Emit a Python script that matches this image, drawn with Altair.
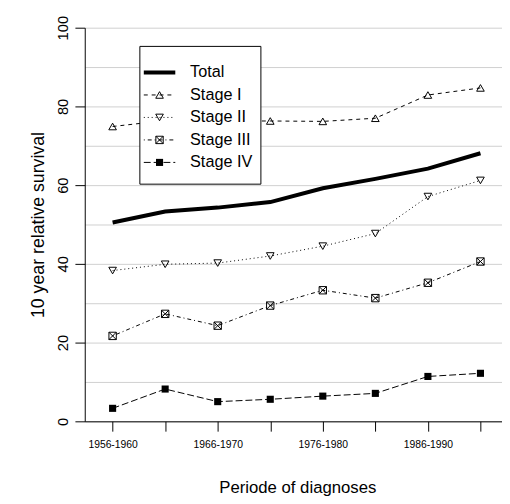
import json
import altair as alt
import pandas as pd

# ---- data -------------------------------------------------------------
periods = ["1956-1960", "1961-1965", "1966-1970", "1971-1975",
           "1976-1980", "1981-1985", "1986-1990", "1991-1995"]
series_names = ["Total", "Stage I", "Stage II", "Stage III", "Stage IV"]
total = [50.5, 53.3, 54.3, 55.7, 59.2, 61.6, 64.2, 68.1]
stage1 = [74.9, 76.4, 76.3, 76.3, 76.2, 77.0, 82.9, 84.7]
stage2 = [38.3, 39.9, 40.2, 42.0, 44.5, 47.7, 57.1, 61.2]
stage3 = [21.7, 27.3, 24.3, 29.4, 33.3, 31.3, 35.2, 40.6]
stage4 = [3.3, 8.2, 5.0, 5.6, 6.4, 7.1, 11.4, 12.2]
y_grid_values = list(range(0, 101, 10))
x_label_every = 2

series_values = dict(zip(series_names, [total, stage1, stage2, stage3, stage4]))

rows = []
for name, vals in series_values.items():
    for i, (p, v) in enumerate(zip(periods, vals)):
        rows.append({"series": name, "idx": i, "period": p, "value": v})
df = pd.DataFrame(rows)

# ---- styles -----------------------------------------------------------
FONT = "Liberation Sans"
dash = {"Total": None, "Stage I": [4, 4], "Stage II": [1, 3],
        "Stage III": [1, 3, 4, 3], "Stage IV": [7, 3]}
lwidth = {"Total": 4, "Stage I": 1, "Stage II": 1, "Stage III": 1, "Stage IV": 1}
sq_x = "M-1,-1H1V1H-1Z M-1,-1L1,1 M1,-1L-1,1"
shape = {"Stage I": "triangle-up", "Stage II": "triangle-down",
         "Stage III": sq_x, "Stage IV": "square"}
size = {"Stage I": 60, "Stage II": 60, "Stage III": 56, "Stage IV": 52}
filled = {"Stage I": False, "Stage II": False, "Stage III": False, "Stage IV": True}

label_expr = ("datum.value % " + str(x_label_every) + " == 0 ? "
              + json.dumps(periods) + "[datum.value] : ''")

x_enc = alt.X("idx:Q",
              scale=alt.Scale(domain=[-0.53, 7.41], nice=False, zero=False),
              axis=alt.Axis(values=list(range(len(periods))), labelExpr=label_expr,
                            title="Periode of diagnoses", grid=False,
                            tickSize=10, tickColor="black", labelFontSize=10.5,
                            labelPadding=9, labelFlush=False, labelOverlap=False,
                            titleX=216, titleY=67, titleBaseline="middle",
                            titleAlign="center", titleFontSize=17))
y_enc = alt.Y("value:Q",
              scale=alt.Scale(domain=[0, 100], nice=False, zero=True),
              axis=alt.Axis(values=y_grid_values,
                            labelExpr="datum.value % 20 == 0 ? datum.label : ''",
                            tickColor={"condition": {"test": "datum.value % 20 === 0",
                                                     "value": "black"},
                                       "value": "transparent"},
                            title="10 year relative survival", grid=True,
                            gridColor="#cfcfcf", gridWidth=1,
                            tickSize=10, labelFontSize=15, labelAngle=270,
                            labelAlign="center", labelBaseline="middle",
                            labelPadding=13, titleX=-47, titleY=200,
                            titleAngle=270, titleAlign="center",
                            titleBaseline="middle", titleFontSize=18))

base = alt.Chart(df)
layers = []
for name in series_names:
    sub = base.transform_filter(alt.datum.series == name)
    line_kw = dict(color="black", strokeWidth=lwidth[name])
    if dash[name]:
        line_kw["strokeDash"] = dash[name]
    layers.append(sub.mark_line(**line_kw).encode(x=x_enc, y=y_enc))
    if name in shape:
        layers.append(sub.mark_point(shape=shape[name], filled=filled[name],
                                     size=size[name], color="black",
                                     strokeWidth=1, opacity=1)
                      .encode(x=x_enc, y=y_enc))

# ---- legend (layout, pixel positions in the plot area) ----------------
leg_df = pd.DataFrame({"series": series_names})
leg_base = alt.Chart(leg_df)
layers.append(leg_base.transform_filter(alt.datum.series == "Total")
              .mark_rect(fill="white", stroke="black", strokeWidth=1)
              .encode(x=alt.value(56), x2=alt.value(179),
                      y=alt.value(19), y2=alt.value(159)))
for k, name in enumerate(series_names):
    yy = 45.5 + 22.85 * k
    sub = leg_base.transform_filter(alt.datum.series == name)
    rule_kw = dict(color="black", strokeWidth=lwidth[name])
    if dash[name]:
        rule_kw["strokeDash"] = dash[name]
    layers.append(sub.mark_rule(**rule_kw)
                  .encode(x=alt.value(60), x2=alt.value(92), y=alt.value(yy)))
    if name in shape:
        layers.append(sub.mark_point(shape=shape[name], filled=filled[name],
                                     size=size[name], color="black",
                                     strokeWidth=1, opacity=1)
                      .encode(x=alt.value(76), y=alt.value(yy)))
    layers.append(sub.mark_text(align="left", baseline="middle", font=FONT,
                                fontSize=16.5, color="black")
                  .encode(x=alt.value(107), y=alt.value(yy), text="series:N"))

chart = (alt.layer(*layers)
         .properties(width=424, height=400,
                     autosize=alt.AutoSizeParams(type="none"),
                     padding={"left": 78, "top": 16, "right": 0, "bottom": 80},
                     background="white")
         .configure_view(stroke=None)
         .configure_axis(labelFont=FONT, titleFont=FONT, labelColor="black",
                         titleColor="black", titleFontWeight="normal",
                         domainColor="black", domainWidth=1, tickWidth=1))

chart.save("out.html", embed_options={"renderer": "svg", "actions": False})
